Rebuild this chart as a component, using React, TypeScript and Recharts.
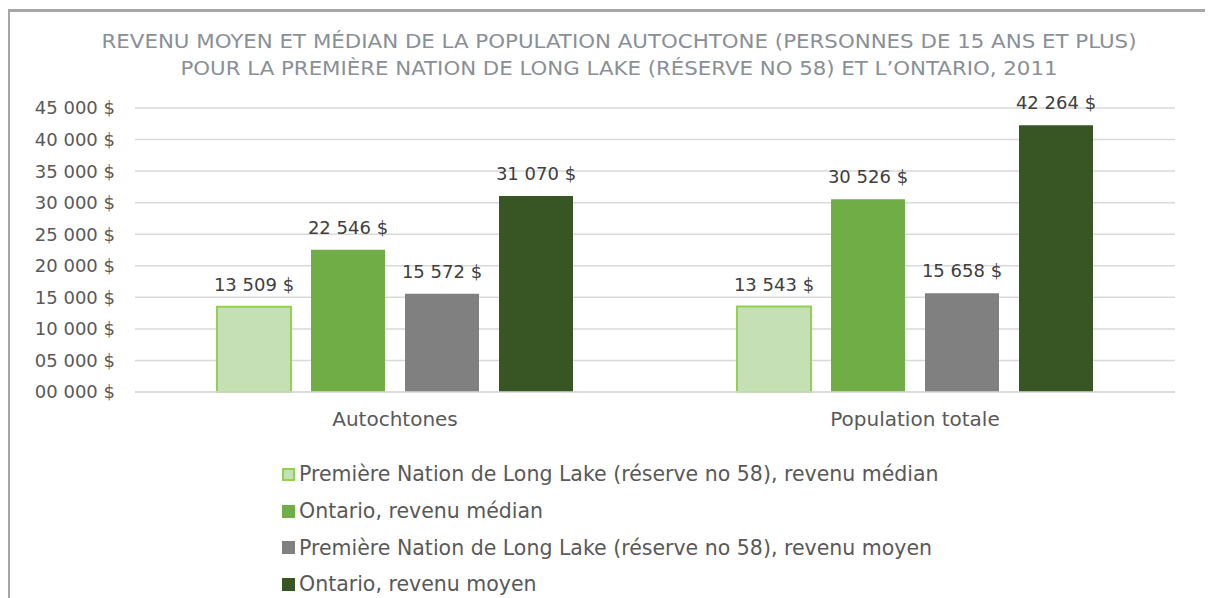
import React from "react";
import { BarChart, Bar, XAxis, YAxis, CartesianGrid, Legend, LabelList } from "recharts";

const categories = ["Autochtones", "Population totale"];
const llMedian = [13509, 13543];
const onMedian = [22546, 30526];
const llMean = [15572, 15658];
const onMean = [31070, 42264];
const yTicks = [0, 5000, 10000, 15000, 20000, 25000, 30000, 35000, 40000, 45000];

const titleLines = [
  "REVENU MOYEN ET MÉDIAN DE LA POPULATION AUTOCHTONE (PERSONNES DE 15 ANS ET PLUS)",
  "POUR LA PREMIÈRE NATION DE LONG LAKE (RÉSERVE NO 58) ET L\u2019ONTARIO, 2011",
];

const series = [
  { key: "llMedian", name: "Première Nation de Long Lake (réserve no 58), revenu médian", fill: "#c5e0b4", stroke: "#92d050" },
  { key: "onMedian", name: "Ontario, revenu médian", fill: "#70ad47", stroke: undefined },
  { key: "llMean", name: "Première Nation de Long Lake (réserve no 58), revenu moyen", fill: "#808080", stroke: undefined },
  { key: "onMean", name: "Ontario, revenu moyen", fill: "#375623", stroke: undefined },
];

const data = categories.map((c, i) => ({
  name: c,
  llMedian: llMedian[i],
  onMedian: onMedian[i],
  llMean: llMean[i],
  onMean: onMean[i],
}));

const FONT = "'DejaVu Sans', sans-serif";

const fmtMoney = (v: number) =>
  `${Math.floor(v / 1000)} ${String(v % 1000).padStart(3, "0")} $`;
const fmtTick = (v: number) => `${String(v / 1000).padStart(2, "0")} 000 $`;

function LegendList(props: any) {
  const order = (k: any) => series.findIndex((x) => x.key === k);
  const items = [...(props.payload || [])].sort((a: any, b: any) => order(a.dataKey) - order(b.dataKey));
  return (
    <div style={{ fontFamily: FONT, fontSize: 20.5, color: "#595959" }}>
      {items.map((it: any) => {
        const s = series.find((x) => x.key === it.dataKey);
        return (
          <div key={it.value} style={{ height: 36.7, display: "flex", alignItems: "center", whiteSpace: "nowrap" }}>
            <span
              style={{
                display: "inline-block",
                boxSizing: "border-box",
                width: 13,
                height: 13,
                background: s ? s.fill : it.color,
                border: s && s.stroke ? `2px solid ${s.stroke}` : "none",
                marginRight: 4,
              }}
            />
            <span>{it.value}</span>
          </div>
        );
      })}
    </div>
  );
}

export default function App() {
  return (
    <div style={{ position: "relative", width: 1205, height: 590 }}>
      <div
        style={{
          position: "absolute",
          left: -1,
          top: 1,
          width: 1220,
          height: 600,
          borderTop: "3px solid #a6a6a6",
          borderLeft: "3px solid #a6a6a6",
        }}
      />
      <svg style={{ position: "absolute", left: -8, top: -8 }} width={1213} height={100}>
        <text x={619} y={48} textAnchor="middle" fill="#899097" fontFamily={FONT} fontSize={20} textLength={1035} lengthAdjust="spacingAndGlyphs">
          {titleLines[0]}
        </text>
        <text x={619} y={75} textAnchor="middle" fill="#899097" fontFamily={FONT} fontSize={20} textLength={877} lengthAdjust="spacingAndGlyphs">
          {titleLines[1]}
        </text>
      </svg>
      <div style={{ position: "absolute", left: 0, top: 0 }}>
        <BarChart
          width={1205}
          height={590}
          data={data}
          margin={{ top: 100, right: 38, bottom: 166, left: 0 }}
          barSize={74}
          barGap={20}
        >
          <CartesianGrid vertical={false} stroke="#d9d9d9" strokeWidth={1.5} />
          <XAxis
            dataKey="name"
            height={40}
            axisLine={{ stroke: "#d9d9d9", strokeWidth: 1.5 }}
            tickLine={false}
            tickSize={0}
            tickMargin={20}
            tick={{ fill: "#595959", fontSize: 20, fontFamily: FONT }}
          />
          <YAxis
            width={127}
            domain={[0, 45000]}
            ticks={yTicks}
            axisLine={false}
            tickLine={false}
            tickSize={0}
            tickMargin={20}
            tickFormatter={fmtTick}
            tick={{ fill: "#595959", fontSize: 18, fontFamily: FONT }}
          />
          <Legend
            layout="vertical"
            align="center"
            verticalAlign="middle"
            wrapperStyle={{ left: 274, top: 448, width: 900, height: 150 }}
            content={<LegendList />}
          />
          {series.map((s) => (
            <Bar
              key={s.key}
              dataKey={s.key}
              name={s.name}
              fill={s.fill}
              stroke={s.stroke}
              strokeWidth={s.stroke ? 2 : 0}
              isAnimationActive={false}
            >
              <LabelList
                dataKey={s.key}
                position="top"
                offset={16}
                formatter={(v: any) => fmtMoney(Number(v))}
                style={{ fill: "#404040", fontSize: 18, fontFamily: FONT }}
              />
            </Bar>
          ))}
        </BarChart>
      </div>
    </div>
  );
}
